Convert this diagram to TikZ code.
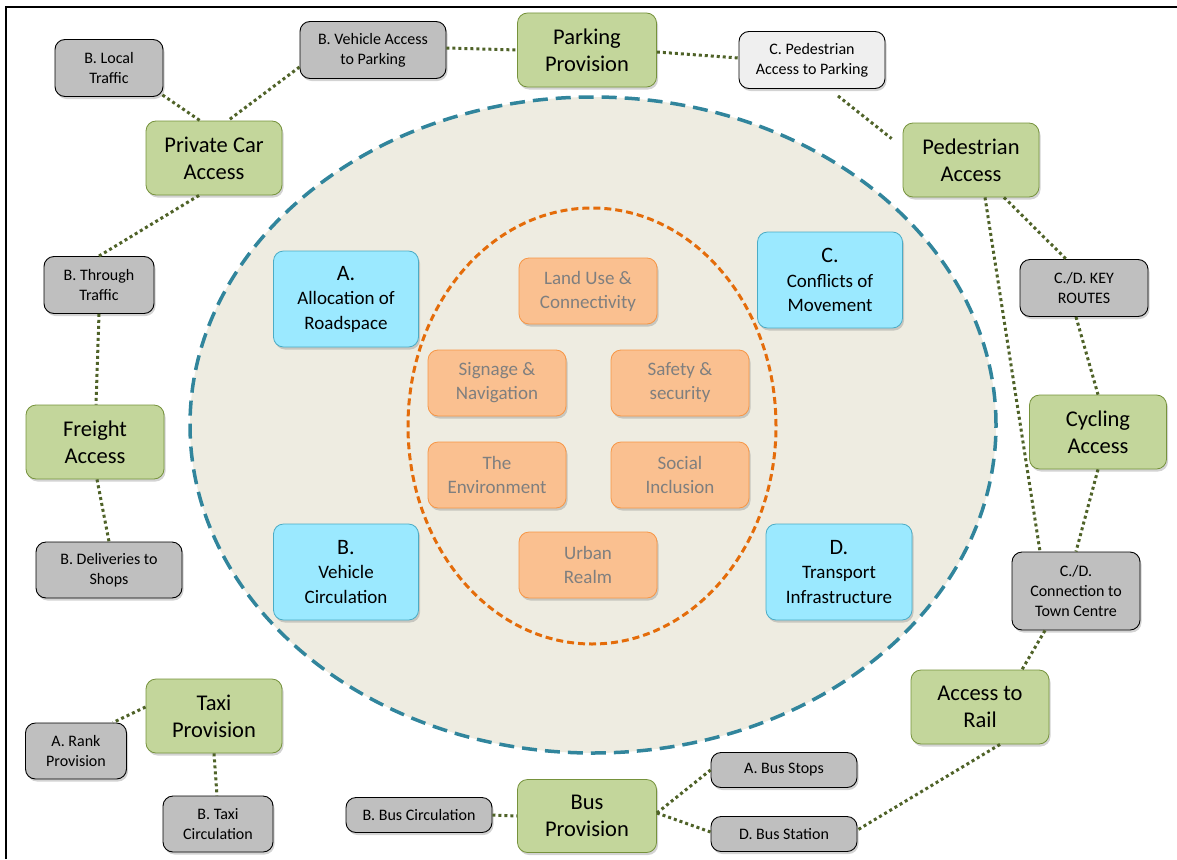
\documentclass[tikz,border=0pt]{standalone}
\usepackage{fontspec}
\setmainfont{Carlito}
\usepackage{xcolor}
\usepackage{tikz}
\usetikzlibrary{positioning, shapes.geometric, shadows, calc}

\definecolor{greenfill}{HTML}{C3D69B}
\definecolor{greenline}{HTML}{76923C}
\definecolor{linkgreen}{HTML}{4F6228}
\definecolor{greyfill}{HTML}{BFBFBF}
\definecolor{palefill}{HTML}{EFEFEF}
\definecolor{bluefill}{HTML}{9BE9FF}
\definecolor{blueline}{HTML}{4BACC6}
\definecolor{orangefill}{HTML}{FAC090}
\definecolor{orangeline}{HTML}{F79646}
\definecolor{orangetext}{HTML}{7F7F7F}
\definecolor{beige}{HTML}{EEECE1}
\definecolor{tealdash}{HTML}{31859C}
\definecolor{orangedash}{HTML}{E46C0A}

\begin{document}
\begin{tikzpicture}[x=1pt, y=-1pt,
	box/.style={rounded corners=10pt, align=center, inner sep=2pt,
		drop shadow={shadow xshift=1.5pt, shadow yshift=-2.5pt, opacity=0.35}},
	main/.style={box, draw=greenline, line width=0.8pt, fill=greenfill,
		minimum width=136pt, minimum height=74pt, font=\fontsize{22.5}{27}\selectfont},
	sub/.style={box, draw=black, line width=0.9pt, fill=greyfill,
		minimum width=146pt, minimum height=57pt, font=\fontsize{16}{20}\selectfont},
	focus/.style={box, draw=blueline, line width=0.8pt, fill=bluefill,
		minimum width=145pt, minimum height=96pt, font=\fontsize{19}{24.5}\selectfont},
	theme/.style={box, draw=orangeline, line width=0.8pt, fill=orangefill, text=orangetext,
		minimum width=138pt, minimum height=66pt, font=\fontsize{19}{24}\selectfont},
	link/.style={draw=linkgreen, line width=3pt, dash pattern=on 3pt off 3pt}]
		\useasboundingbox (0,0) rectangle (1177,859);
		
		% Frame
		\draw[line width=2.5pt] (6,859) -- (6,7) -- (1177,7);
		
		% Outer and inner rings
		\draw[tealdash, fill=beige, line width=3.5pt, dash pattern=on 15pt off 8pt]
		(593,425) ellipse [x radius=403pt, y radius=328pt];
		\draw[orangedash, line width=3pt, dash pattern=on 7pt off 4pt]
		(592,426) ellipse [x radius=184pt, y radius=218pt];
		
		% Themes
		\node[theme] (landuse) at (588,291) {Land Use \&\\Connectivity};
		\node[theme] (signage) at (497,383) {Signage \&\\Navigation};
		\node[theme] (safety) at (680,383) {Safety \&\\security};
		\node[theme] (environ) at (497,475) {The\\Environment};
		\node[theme] (social) at (680,475) {Social\\Inclusion};
		\node[theme] (urban) at (588,565) {Urban\\Realm};
		
		% Focus areas
		\node[focus] (alloc) at (346,299) {{\fontsize{22}{24.5}\selectfont A.}\\Allocation of\\Roadspace};
		\node[focus] (conflict) at (830,280) {{\fontsize{22}{24.5}\selectfont C.}\\Conflicts of\\Movement};
		\node[focus] (vehcirc) at (346,572) {{\fontsize{22}{24.5}\selectfont B.}\\Vehicle\\Circulation};
		\node[focus, minimum width=146pt] (infra) at (839,572) {{\fontsize{22}{24.5}\selectfont D.}\\Transport\\Infrastructure};
		
		% Modes
		\node[main, minimum width=139pt] (parking) at (587,50) {Parking\\Provision};
		\node[main] (car) at (214,158) {Private Car\\Access};
		\node[main] (ped) at (971,160) {Pedestrian\\Access};
		\node[main, minimum width=138pt] (freight) at (95,442) {Freight\\Access};
		\node[main, minimum width=137pt] (cycle) at (1098,432) {Cycling\\Access};
		\node[main, minimum width=138pt] (rail) at (980,707) {Access to\\Rail};
		\node[main] (taxi) at (214,716) {Taxi\\Provision};
		\node[main, minimum width=139pt, minimum height=73pt] (bus) at (587,816) {Bus\\Provision};
		
		% Sub items
		\node[sub, minimum width=108pt] (local) at (109,68) {B. Local\\Traffic};
		\node[sub] (vehpark) at (373,50) {B. Vehicle Access\\to Parking};
		\node[sub, fill=palefill] (pedpark) at (812,60) {C. Pedestrian\\Access to Parking};
		\node[sub, minimum width=110pt] (through) at (99,285) {B. Through\\Traffic};
		\node[sub, minimum width=146pt, minimum height=56pt] (deliv) at (109,570) {B. Deliveries to\\Shops};
		\node[sub, minimum width=128pt] (keyroutes) at (1084,288) {C./D. KEY\\ROUTES};
		\node[sub, minimum width=128pt, minimum height=78pt] (town) at (1076,591) {C./D.\\Connection to\\Town Centre};
		\node[sub, minimum width=101pt, minimum height=56pt] (rank) at (76,751) {A. Rank\\Provision};
		\node[sub, minimum width=110pt, minimum height=56pt] (taxicirc) at (218,824) {B. Taxi\\Circulation};
		\node[sub, minimum height=35pt] (buscirc) at (419,815) {B. Bus Circulation};
		\node[sub, minimum height=35pt] (busstops) at (784,770) {A. Bus Stops};
		\node[sub, minimum height=35pt] (busstation) at (784,834) {D. Bus Station};
		
		% Links
		\draw[link] ([xshift=-1pt, yshift=2pt]local.south east) -- ([xshift=-14pt]car.north);
		\draw[link] ([yshift=-17pt]vehpark.west) -- ([xshift=14pt]car.north);
		\draw[link] ([yshift=2pt]vehpark.east) -- (parking.west);
		\draw[link] ([yshift=-2pt]parking.east) -- ([yshift=2pt]pedpark.west);
		\draw[link] ([xshift=26pt, yshift=-7pt]pedpark.south) -- ([xshift=-11pt, yshift=-16pt]ped.north west);
		\draw[link] ([xshift=-15pt]car.south) -- (through.north);
		\draw[link] (through.south) -- ([xshift=1pt]freight.north);
		\draw[link] ([xshift=2pt]freight.south) -- (deliv.north);
		\draw[link] ([xshift=14pt]ped.south) -- ([xshift=-36pt]town.north);
		\draw[link] ([xshift=33pt]ped.south) -- ([xshift=-18pt]keyroutes.north);
		\draw[link] ([xshift=-8pt]keyroutes.south) -- (cycle.north);
		\draw[link] (cycle.south) -- (town.north);
		\draw[link] ([xshift=-31pt]town.south) -- ([xshift=42pt]rail.north);
		\draw[link] ([xshift=20pt]rail.south) -- ([yshift=4pt]busstation.east);
		\draw[link] ([yshift=3pt]bus.east) -- (busstops.west);
		\draw[link] ([yshift=3pt]bus.east) -- ([yshift=2pt]busstation.west);
		\draw[link] (buscirc.east) -- (bus.west);
		\draw[link] ([yshift=9pt]taxi.west) -- ([xshift=37pt]rank.north);
		\draw[link] (taxi.south) -- ([xshift=-1pt]taxicirc.north);
		
\end{tikzpicture}
\end{document}
